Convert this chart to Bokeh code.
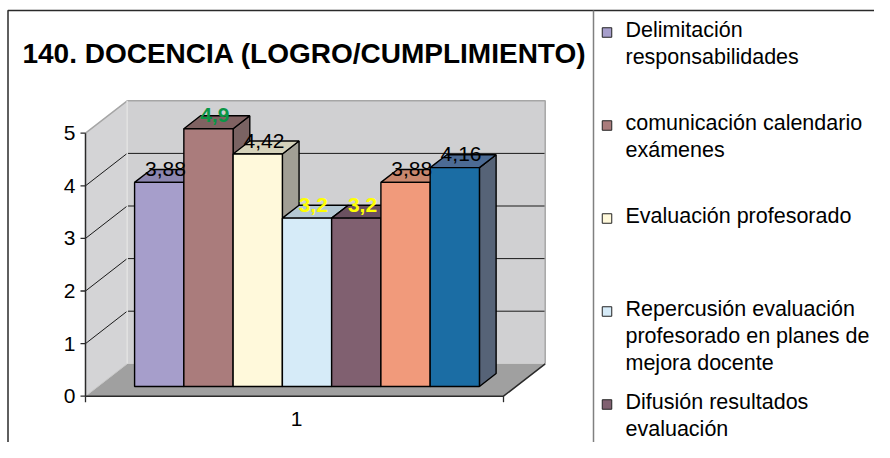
from bokeh.plotting import figure
from bokeh.models import Range1d, ColumnDataSource
from bokeh.core.properties import value
from bokeh.embed import file_html
from bokeh.resources import INLINE

# ---------------- data ----------------
title_text = "140. DOCENCIA (LOGRO/CUMPLIMIENTO)"
category_labels = ["1"]
series_values = [3.88, 4.9, 4.42, 3.2, 3.2, 3.88, 4.16]
value_labels = ["3,88", "4,9", "4,42", "3,2", "3,2", "3,88", "4,16"]
# only the first five legend entries are visible in the (cropped) chart
legend_names = [
    "Delimitación\nresponsabilidades",
    "comunicación calendario\nexámenes",
    "Evaluación profesorado",
    "Repercusión evaluación\nprofesorado en planes de\nmejora docente",
    "Difusión resultados\nevaluación",
]
y_ticks = [0, 1, 2, 3, 4, 5]
y_tick_labels = ["0", "1", "2", "3", "4", "5"]
y_max = 5

# ---------------- styles ----------------
front_colors = ["#A69ECB", "#AA7C7C", "#FFF9DB", "#D6EBF8", "#806070", "#F19A7B", "#1B6DA4"]
top_colors = ["#8C86B0", "#806262", "#D5D2BA", "#B4C8D4", "#6B5160", "#C9876E", "#4C6B94"]
side_colors = ["#7A7596", "#7A6363", "#A19F95", "#9FB0BA", "#5E4A55", "#A77565", "#566377"]
label_colors = ["#000000", "#0A9646", "#000000", "#FFFF00", "#FFFF00", "#000000", "#000000"]
label_styles = ["normal", "bold", "normal", "bold", "bold", "normal", "normal"]
FONT = value("Liberation Sans")

W, H = 874, 442
PX_X = 418.0   # pixels per category unit
PX_Y = 52.6    # pixels per value unit
# category 0.5 sits at canvas x=85 ; value 0 sits at canvas y=395.7 (from top)
X0 = 0.5 - 85.0 / PX_X
Y0 = -(H - 395.7) / PX_Y
DX = 41.7 / PX_X       # 3-D depth offset (x, data units)
DY = 32.4 / PX_Y       # 3-D depth offset (y, data units)
GROUP = 0.825          # fraction of category occupied by the bar group
D_FRONT, D_BACK = 0.3, 0.7


def ref(X, Y):
    """layout helper: canvas pixel -> data coords"""
    return X0 + X / PX_X, Y0 + (H - Y) / PX_Y


p = figure(width=W, height=H, output_backend="svg", toolbar_location=None,
           x_range=Range1d(X0, X0 + W / PX_X), y_range=Range1d(Y0, Y0 + H / PX_Y),
           min_border=0, outline_line_color=None)
p.axis.visible = False
p.grid.visible = False
p.background_fill_color = "white"

cx = 1.0  # position of category "1"
lo, hi = cx - 0.5, cx + 0.5

# ---------------- walls ----------------
p.patch([lo, lo + DX, lo + DX, lo], [0, DY, y_max + DY, y_max], fill_color="#D4D4D6", line_color=None)
p.patch([lo + DX, hi + DX, hi + DX, lo + DX], [DY, DY, y_max + DY, y_max + DY], fill_color="#D0D0D2", line_color=None)
p.patch([lo, hi, hi + DX, lo + DX], [0, 0, DY, DY], fill_color="#A0A0A0", line_color=None)

# gridlines (back wall + side wall)
g = [t for t in y_ticks if 0 < t < y_max]
p.segment(x0=[lo + DX] * len(g), y0=[t + DY for t in g], x1=[hi + DX] * len(g), y1=[t + DY for t in g],
          line_color="#1a1a1a", line_width=1)
p.segment(x0=[lo] * len(g), y0=g, x1=[lo + DX] * len(g), y1=[t + DY for t in g],
          line_color="#1a1a1a", line_width=1)
# wall edges
edge = "#A6A6A6"
p.line([lo, lo + DX, hi + DX, hi + DX], [y_max, y_max + DY, y_max + DY, DY], line_color=edge, line_width=1.5)
p.line([lo + DX, lo + DX], [DY, y_max + DY], line_color="#E2E2E2", line_width=1.5)
p.line([lo, lo + DX], [0, DY], line_color="#C8C8C8", line_width=1)

# floor front edge / right edge & y axis
p.line([lo, hi, hi + DX], [0, 0, DY], line_color="#2a2a2a", line_width=1.5)
p.line([lo, lo], [0, y_max], line_color="#2a2a2a", line_width=1.5)
tick = 5.0 / PX_X
p.segment(x0=[lo - tick] * len(y_ticks), y0=y_ticks, x1=[lo] * len(y_ticks), y1=y_ticks,
          line_color="#2a2a2a", line_width=1.3)
p.segment(x0=[lo, hi], y0=[0, 0], x1=[lo, hi], y1=[-6.0 / PX_Y] * 2, line_color="#2a2a2a", line_width=1.3)
p.text(x=[lo - 10.0 / PX_X] * len(y_ticks), y=y_ticks, text=y_tick_labels, text_font=FONT,
       text_font_size="21px", text_align="right", text_baseline="middle", text_color="black")
p.text(x=[cx + 2.0 / PX_X], y=[-23.0 / PX_Y], text=category_labels, text_font=FONT, text_font_size="21px",
       text_align="center", text_baseline="middle", text_color="black")

# ---------------- bars ----------------
n = len(series_values)
bw = GROUP / n
fx, fy = D_FRONT * DX, D_FRONT * DY
bx, by = D_BACK * DX, D_BACK * DY
lefts = [cx - GROUP / 2 + i * bw for i in range(n)]
rights = [l + bw for l in lefts]

side_xs = [[r + fx, r + bx, r + bx, r + fx] for r in rights]
side_ys = [[fy, by, v + by, v + fy] for v in series_values]
top_xs = [[l + fx, r + fx, r + bx, l + bx] for l, r in zip(lefts, rights)]
top_ys = [[v + fy, v + fy, v + by, v + by] for v in series_values]
front_xs = [[l + fx, r + fx, r + fx, l + fx] for l, r in zip(lefts, rights)]
front_ys = [[fy, fy, v + fy, v + fy] for v in series_values]

p.patches(side_xs, side_ys, fill_color=side_colors, line_color="black", line_width=1.4)
p.patches(top_xs, top_ys, fill_color=top_colors, line_color="black", line_width=1.4)
p.patches(front_xs, front_ys, fill_color=front_colors, line_color="black", line_width=1.4)

# value labels
lab = ColumnDataSource(dict(
    x=[(l + r) / 2 + 0.45 * DX for l, r in zip(lefts, rights)],
    y=[v + 0.5 * DY for v in series_values],
    text=value_labels, color=label_colors, style=label_styles))
p.text(x="x", y="y", text="text", source=lab, text_color="color", text_font_style="style",
       text_font=FONT, text_font_size="21px", text_align="center", text_baseline="middle", y_offset=-7)

# ---------------- title ----------------
tx, ty = ref(304, 53)
p.text(x=[tx], y=[ty], text=[title_text], text_font=FONT, text_font_size="28px",
       text_font_style="bold", text_align="center", text_baseline="middle", text_color="black")

# ---------------- borders ----------------
bl, bt = ref(7.5, 10)
_, bb = ref(7.5, H + 5)
br, _ = ref(W + 5, 10)
lg, _ = ref(593, 10)
p.line([bl, bl, br], [bb, bt, bt], line_color="#2a2a2a", line_width=1.5)
p.line([lg, lg], [bt, bb], line_color="#808080", line_width=1.5)

# ---------------- legend ----------------
m_x, m_y, t_x, t_y, t_txt = [], [], [], [], []
for k, name in enumerate(legend_names):
    mid = 29 + k * 93.0          # vertical centre of the first text line
    mx, my = ref(606.5, mid + 3)
    m_x.append(mx)
    m_y.append(my)
    for j, line in enumerate(name.split("\n")):
        xx, yy = ref(625, mid + j * 27)
        t_x.append(xx)
        t_y.append(yy)
        t_txt.append(line)
p.scatter(x=m_x, y=m_y, marker="square", size=9.5, fill_color=front_colors[:len(legend_names)],
          line_color="#222222", line_width=1)
p.text(x=t_x, y=t_y, text=t_txt, text_font=FONT, text_font_size="21.5px", text_align="left",
       text_baseline="middle", text_color="black")

open("out.html", "w").write(file_html(p, INLINE))
